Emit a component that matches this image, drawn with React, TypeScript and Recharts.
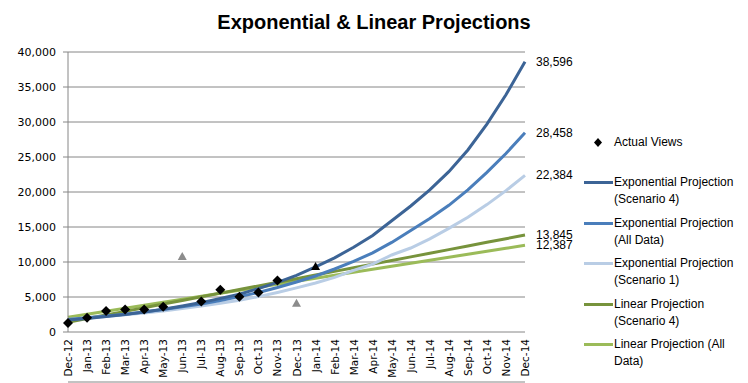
import {
  CartesianGrid,
  ComposedChart,
  LabelList,
  Legend,
  Line,
  XAxis,
  YAxis,
} from 'recharts'

const months = [
  'Dec-12', 'Jan-13', 'Feb-13', 'Mar-13', 'Apr-13', 'May-13', 'Jun-13',
  'Jul-13', 'Aug-13', 'Sep-13', 'Oct-13', 'Nov-13', 'Dec-13', 'Jan-14',
  'Feb-14', 'Mar-14', 'Apr-14', 'May-14', 'Jun-14', 'Jul-14', 'Aug-14',
  'Sep-14', 'Oct-14', 'Nov-14', 'Dec-14',
]

const actualViews = [
  1300, 2050, 3000, 3200, 3200, 3600, null, 4350, 6050, 5050, 5650, 7350,
  null, null, null, null, null, null, null, null, null, null, null, null, null,
]
// grey triangles: months left out of the fit
const excludedViews = [
  null, null, null, null, null, null, 10800, null, null, null, null, null,
  4100, null, null, null, null, null, null, null, null, null, null, null, null,
]
// black triangle: partial month
const partialViews = [
  null, null, null, null, null, null, null, null, null, null, null, null,
  null, 9350, null, null, null, null, null, null, null, null, null, null, null,
]

const expScenario4 = [
  1700, 1930, 2200, 2500, 2850, 3250, 3700, 4200, 4800, 5400, 6200, 7100,
  8100, 9300, 10600, 12100, 13800, 15900, 18000, 20300, 22900, 26000, 29700,
  33900, 38596,
]
const expAllData = [
  1800, 2020, 2270, 2540, 2850, 3200, 3600, 4000, 4500, 5050, 5650, 6350,
  7150, 8000, 9000, 10100, 11300, 12800, 14500, 16200, 18100, 20300, 22800,
  25500, 28458,
]
const expScenario1 = [
  1800, 2000, 2200, 2450, 2700, 3000, 3350, 3700, 4100, 4550, 5050, 5650,
  6300, 7000, 7800, 8800, 9700, 11000, 12000, 13300, 14800, 16400, 18200,
  20200, 22384,
]
const linScenario4 = [
  1400, 1920, 2440, 2950, 3470, 3990, 4510, 5030, 5550, 6070, 6590, 7100,
  7620, 8140, 8660, 9180, 9700, 10220, 10730, 11250, 11770, 12290, 12810,
  13330, 13845,
]
const linAllData = [
  2100, 2530, 2960, 3390, 3810, 4240, 4670, 5100, 5530, 5960, 6390, 6810,
  7240, 7670, 8100, 8530, 8960, 9390, 9810, 10240, 10670, 11100, 11530,
  11960, 12387,
]

const yTicks = [0, 5000, 10000, 15000, 20000, 25000, 30000, 35000, 40000]

const projections = [
  { key: 'expS4', name: 'Exponential Projection (Scenario 4)', color: '#3c6496', values: expScenario4 },
  { key: 'expAll', name: 'Exponential Projection (All Data)', color: '#4a7ebb', values: expAllData },
  { key: 'expS1', name: 'Exponential Projection (Scenario 1)', color: '#b9cde5', values: expScenario1 },
  { key: 'linS4', name: 'Linear Projection (Scenario 4)', color: '#77933c', values: linScenario4 },
  { key: 'linAll', name: 'Linear Projection (All Data)', color: '#9bbb59', values: linAllData },
]

const data = months.map((month, i) => {
  const row: Record<string, string | number | null> = {
    month,
    actual: actualViews[i],
    excluded: excludedViews[i],
    partial: partialViews[i],
  }
  projections.forEach((p) => {
    row[p.key] = p.values[i]
  })
  return row
})

const grey = '#868686'
const labelFont = "'Liberation Sans', Arial, sans-serif"
const tickFont = "'DejaVu Sans', Verdana, sans-serif"

const fmt = (n: number) => n.toLocaleString('en-US')

const diamondDot = (fill: string) => (props: any) => {
  const { cx, cy, index, value } = props
  if (value == null || cy == null || cx == null) return <g key={`d${index}`} />
  return (
    <polygon
      key={`d${index}`}
      points={`${cx},${cy - 5} ${cx + 5},${cy} ${cx},${cy + 5} ${cx - 5},${cy}`}
      fill={fill}
    />
  )
}

const triangleDot = (fill: string) => (props: any) => {
  const { cx, cy, index, value } = props
  if (value == null || cy == null || cx == null) return <g key={`t${index}`} />
  return (
    <polygon
      key={`t${index}`}
      points={`${cx},${cy - 4.5} ${cx + 4.5},${cy + 3.5} ${cx - 4.5},${cy + 3.5}`}
      fill={fill}
    />
  )
}

const endLabel = (props: any) => {
  const { x, y, value, index } = props
  if (index !== months.length - 1) return null
  return (
    <text
      x={x + 11}
      y={y}
      dominantBaseline="central"
      fontFamily={labelFont}
      fontSize={12}
      fill="#000"
    >
      {fmt(value)}
    </text>
  )
}

const MonthTick = (props: any) => {
  const { x, y, payload } = props
  return (
    <text
      x={x}
      y={y}
      transform={`rotate(-90, ${x}, ${y})`}
      textAnchor="end"
      dominantBaseline="central"
      fontFamily={tickFont}
      fontSize={10.5}
      fill="#000"
    >
      {payload.value}
    </text>
  )
}

function LegendBox() {
  const textStyle = {
    fontFamily: labelFont,
    fontSize: 12,
    lineHeight: '17px',
    color: '#000',
    width: 134,
  }
  return (
    <div style={{ position: 'relative', width: 164, height: 240 }}>
      <div style={{ position: 'absolute', top: 0, left: 0, display: 'flex', alignItems: 'center', height: 17 }}>
        <svg width={30} height={17}>
          <polygon points="14,4 18,8.5 14,13 10,8.5" fill="#000" />
        </svg>
        <span style={textStyle}>Actual Views</span>
      </div>
      {projections.map((p, i) => (
        <div
          key={p.key}
          style={{ position: 'absolute', top: 40 + i * 40.6, left: 0, display: 'flex', alignItems: 'flex-start' }}
        >
          <svg width={30} height={17}>
            <line x1={0} x2={29} y1={8.5} y2={8.5} stroke={p.color} strokeWidth={3} />
          </svg>
          <span style={textStyle}>{p.name}</span>
        </div>
      ))}
    </div>
  )
}

export default function App() {
  return (
    <div style={{ position: 'absolute', top: 0, left: 0, width: 748, height: 383, background: '#fff' }}>
      <div
        style={{
          position: 'absolute',
          top: 12,
          left: 0,
          width: 748,
          textAlign: 'center',
          fontFamily: labelFont,
          fontWeight: 'bold',
          fontSize: 20,
          lineHeight: '20px',
          color: '#000',
        }}
      >
        Exponential &amp; Linear Projections
      </div>
      <ComposedChart
        width={748}
        height={383}
        data={data}
        margin={{ top: 52, right: 223, bottom: 0, left: 0 }}
      >
        <CartesianGrid vertical={false} stroke={grey} strokeWidth={1} />
        <XAxis
          xAxisId="ticks"
          type="number"
          domain={[-0.5, months.length - 0.5]}
          ticks={months.map((_, i) => i - 0.5).concat([months.length - 0.5])}
          tick={false}
          tickSize={5}
          tickLine={{ stroke: grey }}
          axisLine={{ stroke: grey }}
          height={1}
          allowDataOverflow
        />
        <XAxis
          xAxisId="cat"
          dataKey="month"
          interval={0}
          tickLine={false}
          axisLine={false}
          tickSize={0}
          tickMargin={7}
          tick={<MonthTick />}
          height={50}
        />
        <YAxis
          domain={[0, 40000]}
          ticks={yTicks}
          tickFormatter={fmt}
          width={68}
          tickSize={5}
          tickMargin={7}
          tickLine={{ stroke: grey }}
          axisLine={{ stroke: grey }}
          tick={{ fontFamily: tickFont, fontSize: 11, fill: '#000' }}
          interval={0}
        />
        <Legend
          layout="vertical"
          align="center"
          verticalAlign="middle"
          wrapperStyle={{ left: 584, top: 134, width: 164, height: 240 }}
          content={() => <LegendBox />}
        />
        {[...projections].reverse().map((p) => (
          <Line
            key={p.key}
            xAxisId="cat"
            type="linear"
            dataKey={p.key}
            name={p.name}
            stroke={p.color}
            strokeWidth={3}
            dot={false}
            activeDot={false}
            isAnimationActive={false}
          >
            <LabelList dataKey={p.key} content={endLabel} />
          </Line>
        ))}
        <Line
          xAxisId="cat"
          dataKey="excluded"
          stroke="none"
          dot={triangleDot('#8c8c8c')}
          activeDot={false}
          legendType="none"
          isAnimationActive={false}
        />
        <Line
          xAxisId="cat"
          dataKey="partial"
          stroke="none"
          dot={triangleDot('#000')}
          activeDot={false}
          legendType="none"
          isAnimationActive={false}
        />
        <Line
          xAxisId="cat"
          dataKey="actual"
          name="Actual Views"
          stroke="none"
          dot={diamondDot('#000')}
          activeDot={false}
          isAnimationActive={false}
        />
      </ComposedChart>
    </div>
  )
}
